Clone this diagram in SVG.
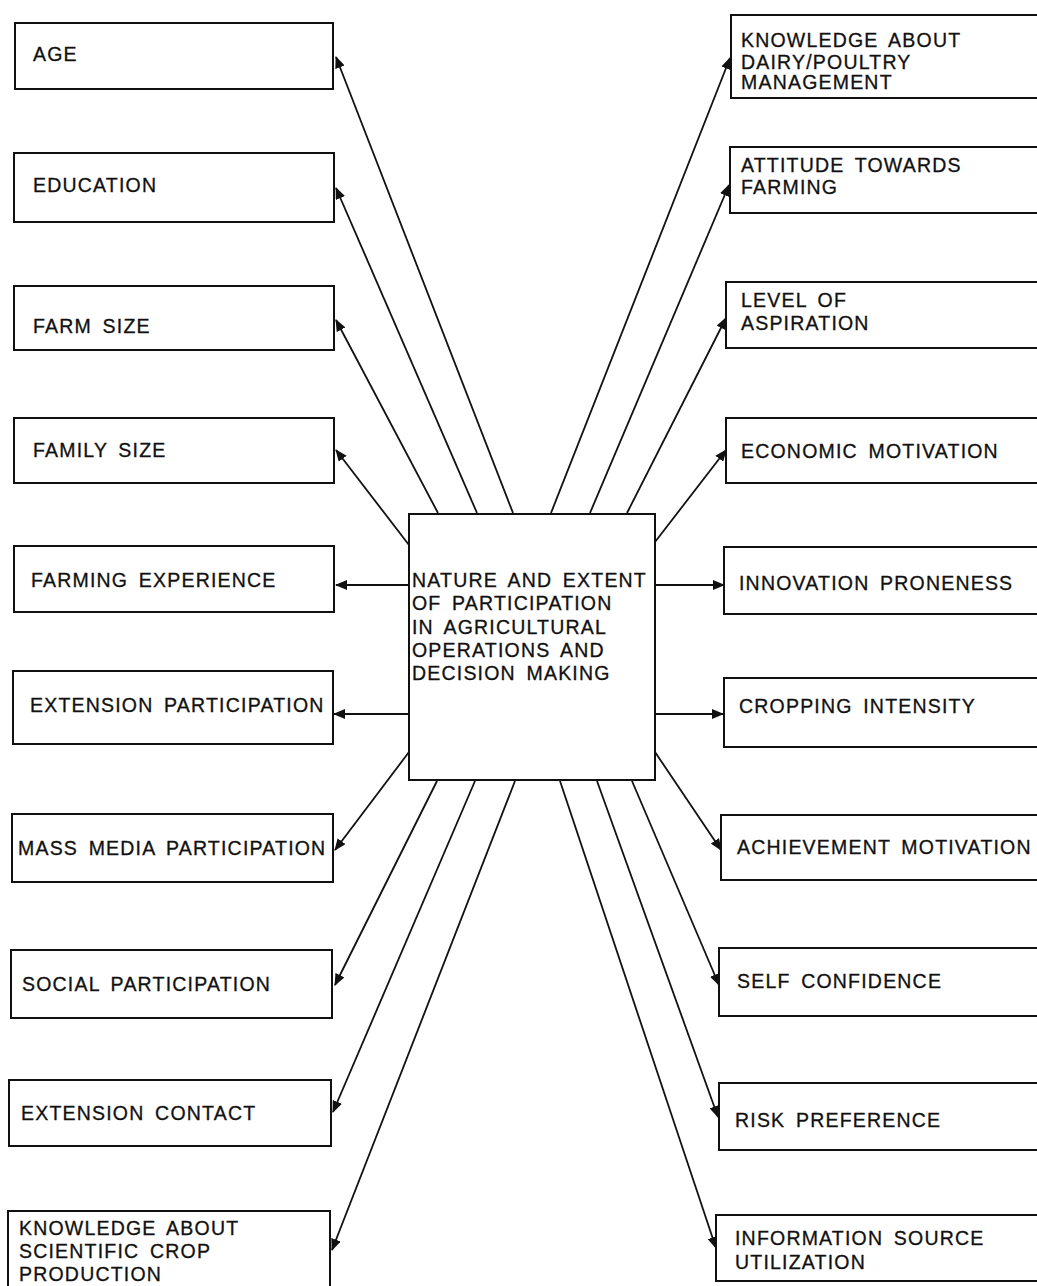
<svg xmlns="http://www.w3.org/2000/svg" width="1037" height="1286" viewBox="0 0 1037 1286">
<style>
.box{fill:#fff;stroke:#111;stroke-width:2}
.t{font-family:"Liberation Sans",Arial,sans-serif;font-size:19.5px;fill:#111;stroke:#111;stroke-width:0.3;letter-spacing:1.2px;word-spacing:4px}
.c{stroke:#111;stroke-width:1.8;fill:none;marker-end:url(#ah)}
</style>
<defs>
<marker id="ah" markerWidth="12" markerHeight="10" refX="11" refY="5" orient="auto" markerUnits="userSpaceOnUse">
<path d="M0,0 L12,5 L0,10 Z" fill="#111"/>
</marker>
</defs>
<rect width="1037" height="1286" fill="#fff"/>
<g id="connectors">
<line class="c" x1="513" y1="513" x2="336" y2="57"/>
<line class="c" x1="477" y1="513" x2="336" y2="188"/>
<line class="c" x1="438" y1="513" x2="336" y2="320"/>
<line class="c" x1="409" y1="545" x2="336" y2="450"/>
<line class="c" x1="409" y1="585" x2="336" y2="585"/>
<line class="c" x1="409" y1="714" x2="334" y2="714"/>
<line class="c" x1="409" y1="752" x2="335" y2="850"/>
<line class="c" x1="437" y1="781" x2="335" y2="985"/>
<line class="c" x1="475" y1="781" x2="333" y2="1112"/>
<line class="c" x1="515" y1="781" x2="332" y2="1250"/>
<line class="c" x1="551" y1="513" x2="730" y2="58"/>
<line class="c" x1="590" y1="513" x2="729" y2="185"/>
<line class="c" x1="627" y1="513" x2="726" y2="318"/>
<line class="c" x1="655" y1="542" x2="726" y2="450"/>
<line class="c" x1="655" y1="585" x2="724" y2="585"/>
<line class="c" x1="655" y1="714" x2="723" y2="714"/>
<line class="c" x1="655" y1="752" x2="721" y2="850"/>
<line class="c" x1="632" y1="781" x2="719" y2="985"/>
<line class="c" x1="597" y1="781" x2="718" y2="1117"/>
<line class="c" x1="560" y1="781" x2="716" y2="1248"/>
</g>
<g id="center">
<rect class="box" x="409" y="514" width="246" height="266"/>
<text class="t" x="412" y="587">NATURE AND EXTENT</text>
<text class="t" x="412" y="610">OF PARTICIPATION</text>
<text class="t" x="412" y="634">IN AGRICULTURAL</text>
<text class="t" x="412" y="657">OPERATIONS AND</text>
<text class="t" x="412" y="680">DECISION MAKING</text>
</g>
<g id="age"><rect class="box" x="15" y="23" width="318" height="66"/><text class="t" x="33" y="61">AGE</text></g>
<g id="education"><rect class="box" x="14" y="153" width="320" height="69"/><text class="t" x="33" y="192">EDUCATION</text></g>
<g id="farm-size"><rect class="box" x="14" y="286" width="320" height="64"/><text class="t" x="33" y="333">FARM SIZE</text></g>
<g id="family-size"><rect class="box" x="14" y="418" width="320" height="65"/><text class="t" x="33" y="457">FAMILY SIZE</text></g>
<g id="farming-experience"><rect class="box" x="14" y="546" width="320" height="66"/><text class="t" x="31" y="587">FARMING EXPERIENCE</text></g>
<g id="extension-participation"><rect class="box" x="13" y="671" width="320" height="73"/><text class="t" x="30" y="712">EXTENSION PARTICIPATION</text></g>
<g id="mass-media"><rect class="box" x="12" y="814" width="321" height="68"/><text class="t" x="18" y="855">MASS MEDIA PARTICIPATION</text></g>
<g id="social-participation"><rect class="box" x="11" y="950" width="321" height="68"/><text class="t" x="22" y="991">SOCIAL PARTICIPATION</text></g>
<g id="extension-contact"><rect class="box" x="9" y="1080" width="322" height="66"/><text class="t" x="21" y="1120">EXTENSION CONTACT</text></g>
<g id="knowledge-crop"><rect class="box" x="8" y="1211" width="322" height="90"/><text class="t" x="19" y="1235">KNOWLEDGE ABOUT</text><text class="t" x="19" y="1258">SCIENTIFIC CROP</text><text class="t" x="19" y="1281">PRODUCTION</text></g>
<g id="knowledge-dairy"><rect class="box" x="731" y="15" width="320" height="83"/><text class="t" x="741" y="47">KNOWLEDGE ABOUT</text><text class="t" x="741" y="69">DAIRY/POULTRY</text><text class="t" x="741" y="89">MANAGEMENT</text></g>
<g id="attitude"><rect class="box" x="730" y="147" width="320" height="66"/><text class="t" x="741" y="172">ATTITUDE TOWARDS</text><text class="t" x="741" y="194">FARMING</text></g>
<g id="aspiration"><rect class="box" x="726" y="282" width="324" height="66"/><text class="t" x="741" y="307">LEVEL OF</text><text class="t" x="741" y="330">ASPIRATION</text></g>
<g id="economic"><rect class="box" x="726" y="418" width="324" height="65"/><text class="t" x="741" y="458">ECONOMIC MOTIVATION</text></g>
<g id="innovation"><rect class="box" x="724" y="547" width="326" height="67"/><text class="t" x="739" y="590">INNOVATION PRONENESS</text></g>
<g id="cropping"><rect class="box" x="724" y="678" width="326" height="69"/><text class="t" x="739" y="713">CROPPING INTENSITY</text></g>
<g id="achievement"><rect class="box" x="721" y="815" width="329" height="65"/><text class="t" x="737" y="854">ACHIEVEMENT MOTIVATION</text></g>
<g id="self-confidence"><rect class="box" x="719" y="948" width="331" height="68"/><text class="t" x="737" y="988">SELF CONFIDENCE</text></g>
<g id="risk"><rect class="box" x="719" y="1083" width="331" height="67"/><text class="t" x="735" y="1127">RISK PREFERENCE</text></g>
<g id="information"><rect class="box" x="716" y="1215" width="334" height="66"/><text class="t" x="735" y="1245">INFORMATION SOURCE</text><text class="t" x="735" y="1269">UTILIZATION</text></g>
</svg>
